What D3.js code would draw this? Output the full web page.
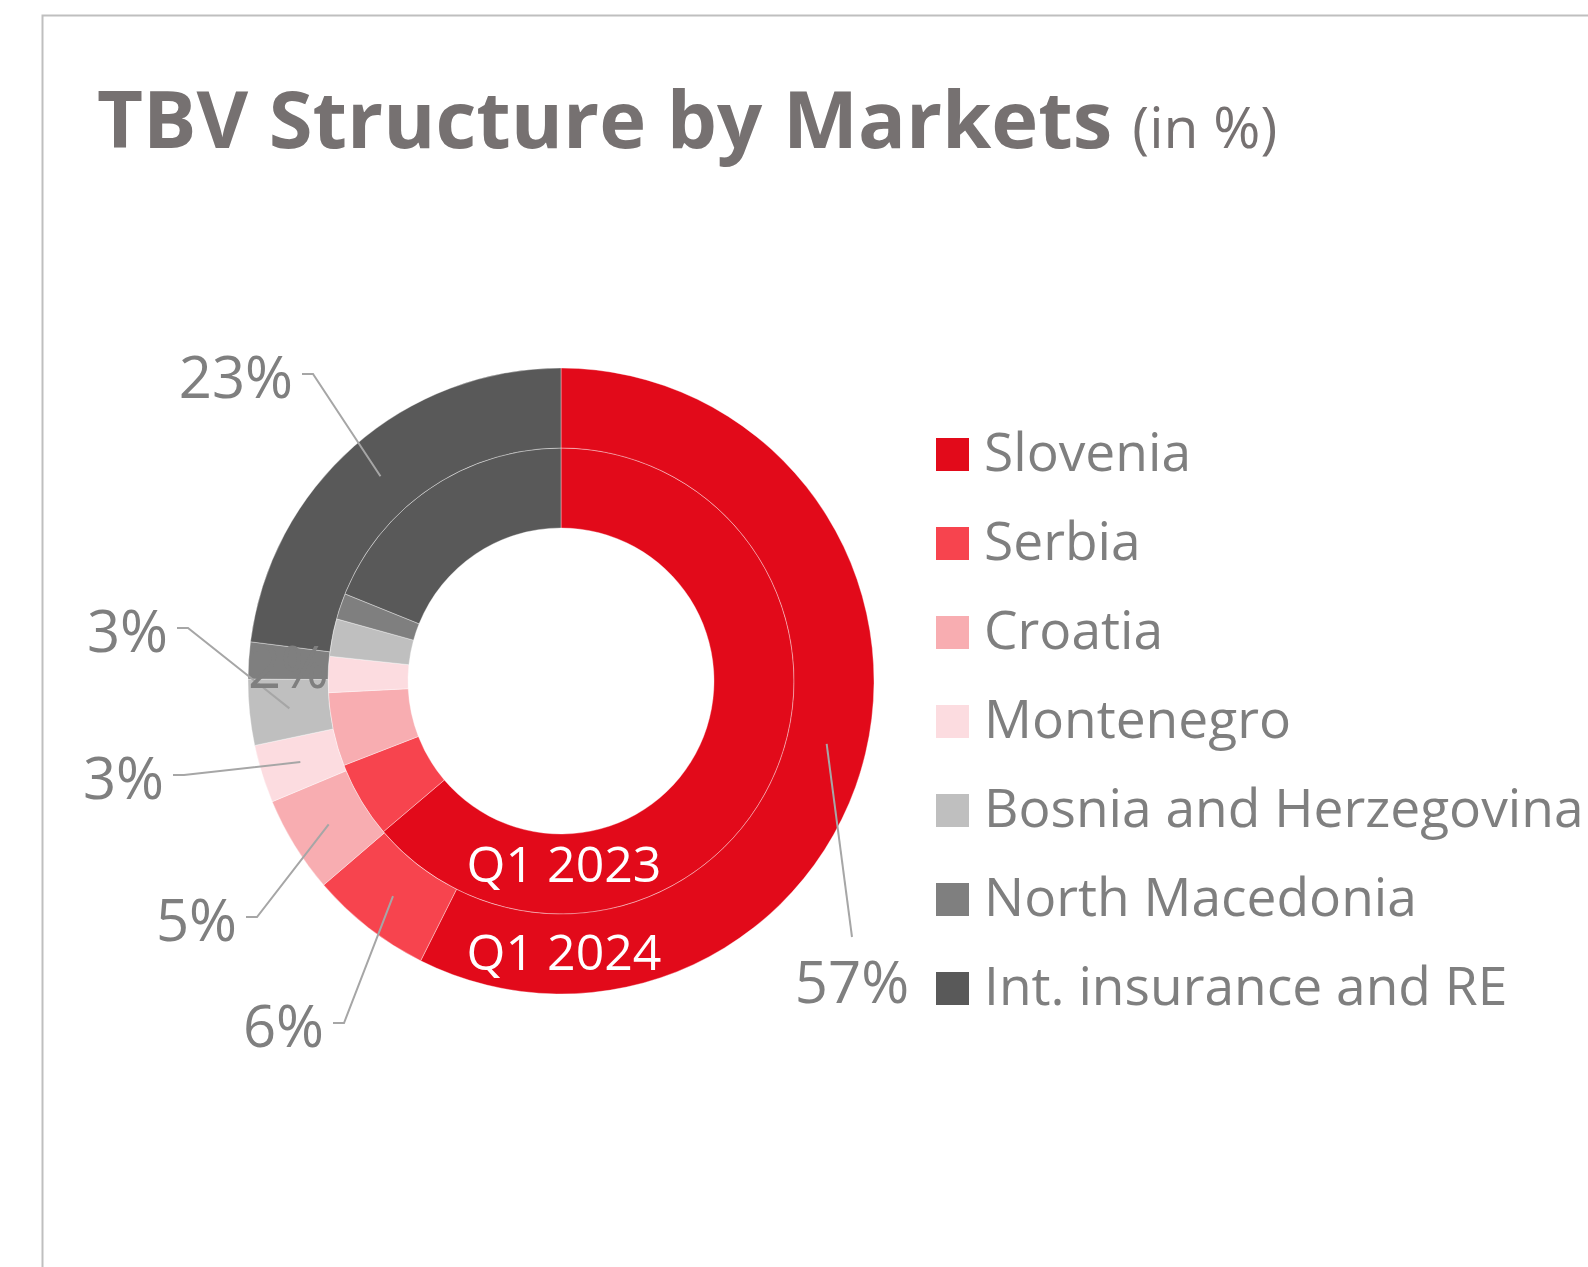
<!DOCTYPE html>
<html>
<head>
<meta charset="utf-8">
<script src="https://cdn.jsdelivr.net/npm/d3@7"></script>
<style>
  body { margin: 0; background: #fff; }
  svg { display: block; font-family: "Open Sans", sans-serif; }
</style>
</head>
<body>
<svg id="chart"></svg>
<script>
// data
var markets = ["Slovenia", "Serbia", "Croatia", "Montenegro",
               "Bosnia and Herzegovina", "North Macedonia", "Int. insurance and RE"];
var q1_2023 = [63.8, 5.3, 5.1, 2.5, 2.6, 1.8, 18.9];
var q1_2024 = [57.4, 6.3, 5.0, 3.0, 3.4, 1.9, 23.0];
var labels2024 = ["57%", "6%", "5%", "3%", "3%", "2%", "23%"];
var ringNames = ["Q1 2023", "Q1 2024"];

var colors = ["#e20a1a", "#f7444e", "#f8adb1", "#fcdce0", "#bfbfbf", "#7f7f7f", "#595959"];

// where each outer label sits (elbow point, relative to the pie centre)
var labelSpots = [[291, 256], [-217, 342], [-304, 236], [-377, 94], [-373, -53], [-232, -17], [-248, -307]];

var width = 1588, height = 1267;
var cx = 561, cy = 681;
var r0 = 153, r1 = 233, r2 = 313;
var textGrey = "#7f7f7f";

var svg = d3.select("#chart")
    .attr("width", width)
    .attr("height", height);

// frame
svg.append("path")
    .attr("d", `M42.5,${height} V15.5 H${width}`)
    .attr("fill", "none")
    .attr("stroke", "#bfbfbf")
    .attr("stroke-width", 2);

// title
var title = svg.append("text")
    .attr("x", 97)
    .attr("y", 148)
    .attr("fill", "#767171");
title.append("tspan")
    .attr("font-weight", "bold")
    .attr("font-size", 79.5)
    .text("TBV Structure by Markets");
title.append("tspan")
    .attr("font-size", 57)
    .attr("dx", 20)
    .text("(in %)");

var pie = d3.pie().sort(null).value(d => d);
var arcIn = d3.arc().innerRadius(r0).outerRadius(r1);
var arcOut = d3.arc().innerRadius(r1).outerRadius(r2);

var g = svg.append("g").attr("transform", `translate(${cx},${cy})`);

var rings = [
    { name: ringNames[0], arcs: pie(q1_2023), arc: arcIn, mid: (r0 + r1) / 2, dy: 8 },
    { name: ringNames[1], arcs: pie(q1_2024), arc: arcOut, mid: (r1 + r2) / 2, dy: 16 }
];

rings.forEach(ring => {
    g.append("g")
        .selectAll("path")
        .data(ring.arcs)
        .enter()
        .append("path")
            .attr("d", ring.arc)
            .attr("fill", (d, i) => colors[i])
            .attr("stroke", "#fff")
            .attr("stroke-width", 0.8)
            .attr("stroke-opacity", 0.45);
});

// leader lines for the outer ring
var outerArcs = rings[1].arcs;
var lines = g.append("g");
outerArcs.forEach((d, i) => {
    if (i === 5) return;   // 2% label has no visible leader
    var c = arcOut.centroid(d);
    var p = labelSpots[i];
    var pts = [c, p];
    if (i !== 0) pts.push([p[0] - 11, p[1]]);
    lines.append("path")
        .attr("d", d3.line()(pts))
        .attr("fill", "none")
        .attr("stroke", "#a6a6a6")
        .attr("stroke-width", 2);
});

// outer labels
function labelX(i) {
    if (i === 0) return labelSpots[i][0];
    if (i === 5) return labelSpots[i][0];
    return labelSpots[i][0] - 20;
}
g.append("g")
    .selectAll("text")
    .data(outerArcs)
    .enter()
    .append("text")
        .attr("x", (d, i) => labelX(i))
        .attr("y", (d, i) => i === 0 ? labelSpots[i][1] + 66 : labelSpots[i][1] + 24)
        .attr("text-anchor", (d, i) => i === 0 ? "middle" : "end")
        .attr("font-size", 58)
        .attr("fill", textGrey)
        .text((d, i) => labels2024[i]);

// ring names
g.append("g")
    .selectAll("text")
    .data(rings)
    .enter()
    .append("text")
        .attr("x", 3)
        .attr("y", d => d.mid + d.dy)
        .attr("text-anchor", "middle")
        .attr("font-size", 50)
        .attr("fill", "#fff")
        .text(d => d.name);

// legend
var legend = svg.append("g")
    .attr("transform", "translate(936,438)")
    .selectAll("g")
    .data(markets)
    .enter()
    .append("g")
        .attr("transform", (d, i) => `translate(0,${i * 89})`);

legend.append("rect")
    .attr("width", 33)
    .attr("height", 33)
    .attr("fill", (d, i) => colors[i]);

legend.append("text")
    .attr("x", 48)
    .attr("y", 33)
    .attr("font-size", 53.3)
    .attr("fill", textGrey)
    .text(d => d);
</script>
</body>
</html>
